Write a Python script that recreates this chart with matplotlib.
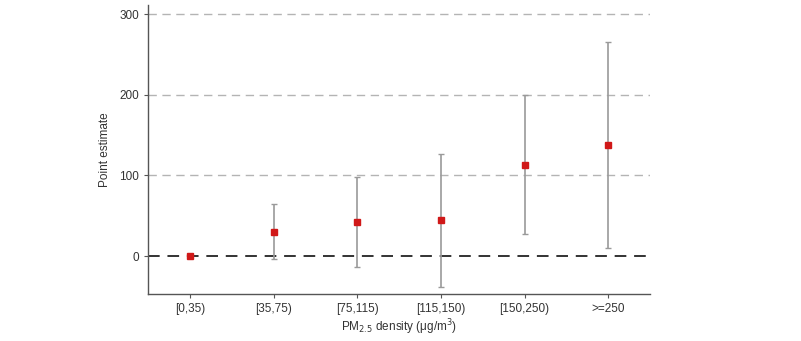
import matplotlib.pyplot as plt

categories = ["[0,35)", "[35,75)", "[75,115)", "[115,150)", "[150,250)", ">=250"]
estimates = [0, 30, 42, 44.5, 113.5, 137.5]
ci_low = [0, -3, -13, -38, 27, 10]
ci_high = [0, 64, 97.5, 127, 200, 265.5]

plt.rcParams["font.family"] = ["Liberation Sans", "DejaVu Sans"]

fig = plt.figure(figsize=(8.01, 3.41), dpi=100)
ax = fig.add_axes([0.1848, 0.1378, 0.6267, 0.847])

x = list(range(1, len(categories) + 1))

# reference lines
for yv in [100, 200, 300]:
    ax.axhline(yv, color="#b4b4b4", linestyle=(0, (6, 4)), linewidth=1.0, zorder=0)
ax.axhline(0, color="#333333", linestyle=(0, (6, 4)), linewidth=1.4, zorder=1)

# confidence intervals (skip the reference group)
for xi, lo, hi in zip(x, ci_low, ci_high):
    if hi == lo:
        continue
    ax.errorbar([xi], [(lo + hi) / 2], yerr=[[(hi - lo) / 2], [(hi - lo) / 2]],
                fmt="none", ecolor="#9a9a9a", elinewidth=1.2, capsize=2.5,
                capthick=1.0, zorder=2)

ax.plot(x, estimates, "s", color="#d01818", markersize=4, zorder=3)

ax.set_xlim(0.5, 6.5)
ax.set_ylim(-47, 311)
ax.set_yticks([0, 100, 200, 300])
ax.set_xticks(x)
ax.set_xticklabels(categories)

for s in ["top", "right"]:
    ax.spines[s].set_visible(False)
for s in ["left", "bottom"]:
    ax.spines[s].set_color("#555555")
    ax.spines[s].set_linewidth(1.0)

ax.tick_params(axis="both", colors="#555555", labelcolor="#333333",
               labelsize=8.5, length=3, width=0.8)

ax.set_ylabel("Point estimate", fontsize=8.5, color="#333333", labelpad=6)
ax.set_xlabel("PM$_{2.5}$ density (\u03bcg/m$^3$)", fontsize=8.5, color="#333333",
              labelpad=2)

fig.savefig("out.png", dpi=100, facecolor="white")
